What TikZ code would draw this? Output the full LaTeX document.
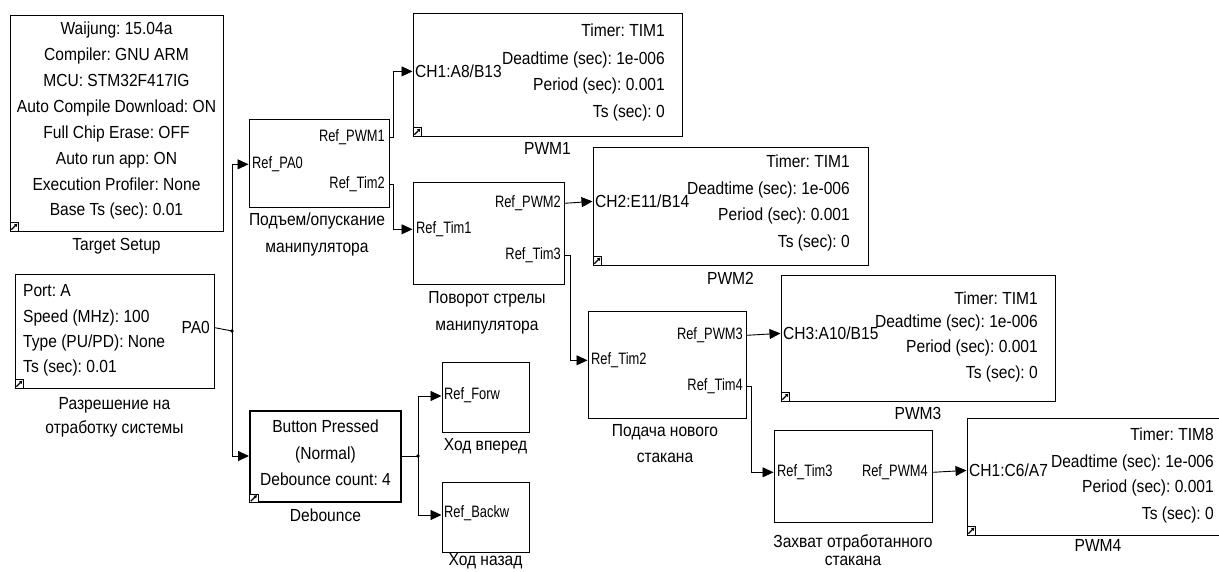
\documentclass[tikz,border=0pt]{standalone}
\usepackage{fontspec}
\setmainfont[FakeStretch=0.89]{Liberation Sans}
\newfontfamily\portfont[FakeStretch=0.78]{Liberation Sans}
\usetikzlibrary{arrows.meta}
\newcommand{\mainsz}{\frenchspacing\fontsize{17.5}{20}\selectfont}
\newcommand{\portsz}{\frenchspacing\portfont\fontsize{16.5}{18}\selectfont}

\begin{document}
\begin{tikzpicture}[x=1pt,y=-1pt,
  blk/.style={draw,line width=1pt,inner sep=0pt},
  txt/.style={inner sep=0pt,font=\mainsz},
  prt/.style={inner sep=0pt,font=\portsz},
  wire/.style={line width=0.9pt},
  sig/.style={wire,-{Triangle[length=11pt,width=10pt]}},
  lnk/.style={draw,fill=white,line width=0.8pt,minimum size=8.5pt,inner sep=0pt}]
\useasboundingbox (0,0) rectangle (1219,571);

% blocks
\node[blk,minimum width=213pt,minimum height=216pt] (tgt) at (116.5,123) {};
\node[blk,minimum width=199pt,minimum height=114pt] (en) at (114.5,331) {};
\node[blk,minimum width=140pt,minimum height=88pt] (lift) at (319,163) {};
\node[blk,minimum width=151pt,minimum height=102pt] (rot) at (488.5,233) {};
\node[blk,minimum width=158pt,minimum height=107pt] (feed) at (667,364.5) {};
\node[blk,minimum width=158pt,minimum height=92pt] (grab) at (853,476) {};
\node[blk,line width=2pt,minimum width=151pt,minimum height=91pt] (deb) at (325.5,456.5) {};
\node[blk,minimum width=87pt,minimum height=70pt] (fwd) at (485.5,397) {};
\node[blk,minimum width=87pt,minimum height=70pt] (bwd) at (485.5,517) {};
\node[blk,minimum width=269pt,minimum height=123pt] (pwma) at (547.5,74.5) {};
\node[blk,minimum width=275pt,minimum height=118pt] (pwmb) at (730.5,206) {};
\node[blk,minimum width=274pt,minimum height=126pt] (pwmc) at (918,338) {};
\node[blk,minimum width=264pt,minimum height=117pt] (pwmd) at (1099,476.5) {};

\foreach \b in {tgt,en,deb,pwma,pwmb,pwmc,pwmd} {
  \node[lnk,anchor=south west] (\b-i) at (\b.south west) {};
  \draw[-{Triangle[length=3pt,width=3.5pt]},line width=1.1pt]
    ([shift={(1.8,-1.8)}]\b-i.south west) -- ([shift={(-1.4,1.4)}]\b-i.north east);
}

% target setup
\foreach \t [count=\i] in {Waijung: 15.04a,Compiler: GNU ARM,MCU: STM32F417IG,
    Auto Compile Download: ON,Full Chip Erase: OFF,Auto run app: ON,
    Execution Profiler: None,Base Ts (sec): 0.01}
  \node[txt,anchor=mid] (tgt-\i) at (116.5,{32+25.9*(\i-1)}) {\t};
\node[txt,anchor=mid] (tgt-n) at (116.5,248) {Target Setup};

% enable input
\node[txt,anchor=mid west] (en-1) at (23,294) {Port: A};
\node[txt,anchor=mid west] (en-2) at (23,320) {Speed (MHz): 100};
\node[txt,anchor=mid west] (en-3) at (23,345) {Type (PU/PD): None};
\node[txt,anchor=mid west] (en-4) at (23,370) {Ts (sec): 0.01};
\node[txt,anchor=mid east] (en-o) at (210,331) {PA0};
\node[txt,anchor=mid] (en-n1) at (114.5,407) {Разрешение на};
\node[txt,anchor=mid] (en-n2) at (114.5,431) {отработку системы};

% debounce
\node[txt,anchor=mid] (deb-1) at (325.5,430) {Button Pressed};
\node[txt,anchor=mid] (deb-2) at (325.5,457) {(Normal)};
\node[txt,anchor=mid] (deb-3) at (325.5,483) {Debounce count: 4};
\node[txt,anchor=mid] (deb-n) at (325.5,519) {Debounce};

% subsystems
\node[prt,anchor=mid west] (lift-i) at (252,166) {Ref\_PA0};
\node[prt,anchor=mid east] (lift-o1) at (385,139) {Ref\_PWM1};
\node[prt,anchor=mid east] (lift-o2) at (385,186) {Ref\_Tim2};
\node[txt,anchor=mid] (lift-n1) at (317,223) {Подъем/опускание};
\node[txt,anchor=mid] (lift-n2) at (317,250) {манипулятора};

\node[prt,anchor=mid west] (rot-i) at (416,231) {Ref\_Tim1};
\node[prt,anchor=mid east] (rot-o1) at (561,205) {Ref\_PWM2};
\node[prt,anchor=mid east] (rot-o2) at (561,257) {Ref\_Tim3};
\node[txt,anchor=mid] (rot-n1) at (487,301) {Поворот стрелы};
\node[txt,anchor=mid] (rot-n2) at (487,328) {манипулятора};

\node[prt,anchor=mid west] (feed-i) at (591,362) {Ref\_Tim2};
\node[prt,anchor=mid east] (feed-o1) at (743,337) {Ref\_PWM3};
\node[prt,anchor=mid east] (feed-o2) at (743,388) {Ref\_Tim4};
\node[txt,anchor=mid] (feed-n1) at (665,434) {Подача нового};
\node[txt,anchor=mid] (feed-n2) at (665,460) {стакана};

\node[prt,anchor=mid west] (grab-i) at (777,474) {Ref\_Tim3};
\node[prt,anchor=mid east] (grab-o) at (928,474) {Ref\_PWM4};
\node[txt,anchor=mid] (grab-n1) at (853,545) {Захват отработанного};
\node[txt,anchor=mid] (grab-n2) at (853,563) {стакана};

\node[prt,anchor=mid west] (fwd-i) at (444,397) {Ref\_Forw};
\node[txt,anchor=mid] (fwd-n) at (485.5,448) {Ход вперед};
\node[prt,anchor=mid west] (bwd-i) at (444,515) {Ref\_Backw};
\node[txt,anchor=mid] (bwd-n) at (485.5,563) {Ход назад};

% pwm blocks
\node[txt,anchor=mid west] (pwma-i) at (415,75) {CH1:A8/B13};
\node[txt,anchor=mid east] (pwma-1) at (665,34) {Timer: TIM1};
\node[txt,anchor=mid east] (pwma-2) at (665,62) {Deadtime (sec): 1e-006};
\node[txt,anchor=mid east] (pwma-3) at (665,88) {Period (sec): 0.001};
\node[txt,anchor=mid east] (pwma-4) at (665,115) {Ts (sec): 0};
\node[txt,anchor=mid] (pwma-n) at (547.5,152) {PWM1};

\node[txt,anchor=mid west] (pwmb-i) at (595,205) {CH2:E11/B14};
\node[txt,anchor=mid east] (pwmb-1) at (850,165) {Timer: TIM1};
\node[txt,anchor=mid east] (pwmb-2) at (850,192) {Deadtime (sec): 1e-006};
\node[txt,anchor=mid east] (pwmb-3) at (850,218) {Period (sec): 0.001};
\node[txt,anchor=mid east] (pwmb-4) at (850,245) {Ts (sec): 0};
\node[txt,anchor=mid] (pwmb-n) at (730.5,282) {PWM2};

\node[txt,anchor=mid west] (pwmc-i) at (783,337) {CH3:A10/B15};
\node[txt,anchor=mid east] (pwmc-1) at (1038,302) {Timer: TIM1};
\node[txt,anchor=mid east] (pwmc-2) at (1038,325) {Deadtime (sec): 1e-006};
\node[txt,anchor=mid east] (pwmc-3) at (1038,350) {Period (sec): 0.001};
\node[txt,anchor=mid east] (pwmc-4) at (1038,376) {Ts (sec): 0};
\node[txt,anchor=mid] (pwmc-n) at (918,417) {PWM3};

\node[txt,anchor=mid west] (pwmd-i) at (969,474) {CH1:C6/A7};
\node[txt,anchor=mid east] (pwmd-1) at (1214,438) {Timer: TIM8};
\node[txt,anchor=mid east] (pwmd-2) at (1214,465) {Deadtime (sec): 1e-006};
\node[txt,anchor=mid east] (pwmd-3) at (1214,490) {Period (sec): 0.001};
\node[txt,anchor=mid east] (pwmd-4) at (1214,517) {Ts (sec): 0};
\node[txt,anchor=mid] (pwmd-n) at (1098,549) {PWM4};

% ports and branch points
\coordinate (en-out) at (en.east |- en-o);
\coordinate (j1) at (232,331);
\coordinate (lift-in) at (lift.west |- lift-i);
\coordinate (lift-out1) at (lift.east |- lift-o1);
\coordinate (lift-out2) at (lift.east |- lift-o2);
\coordinate (rot-in) at (rot.west |- rot-i);
\coordinate (rot-out1) at (rot.east |- rot-o1);
\coordinate (rot-out2) at (rot.east |- rot-o2);
\coordinate (feed-in) at (feed.west |- feed-i);
\coordinate (feed-out1) at (feed.east |- feed-o1);
\coordinate (feed-out2) at (feed.east |- feed-o2);
\coordinate (grab-in) at (grab.west |- grab-i);
\coordinate (grab-out) at (grab.east |- grab-o);
\coordinate (deb-in) at (deb.west |- 0,456);
\coordinate (deb-out) at (deb.east |- 0,456);
\coordinate (j2) at (418,456);
\coordinate (fwd-in) at (fwd.west |- 0,396);
\coordinate (bwd-in) at (bwd.west |- 0,515);
\coordinate (pwma-in) at (pwma.west |- pwma-i);
\coordinate (pwmb-in) at (pwmb.west |- pwmb-i);
\coordinate (pwmc-in) at (pwmc.west |- pwmc-i);
\coordinate (pwmd-in) at (pwmd.west |- pwmd-i);

% connections
\draw[wire] (en-out) -- (j1);
\fill (j1) circle (1.8);
\draw[sig] (j1) |- (lift-in);
\draw[sig] (j1) |- (deb-in);
\draw[sig] (lift-out1) -- ++(4,0) |- (pwma-in);
\draw[sig] (lift-out2) -- ++(4,0) |- (rot-in);
\draw[sig] (rot-out1) -- (pwmb-in);
\draw[sig] (rot-out2) -- ++(6,0) |- (feed-in);
\draw[sig] (feed-out1) -- (pwmc-in);
\draw[sig] (feed-out2) -- ++(5,0) |- (grab-in);
\draw[sig] (grab-out) -- (pwmd-in);
\draw[wire] (deb-out) -- (j2);
\fill (j2) circle (1.8);
\draw[sig] (j2) |- (fwd-in);
\draw[sig] (j2) |- (bwd-in);
\end{tikzpicture}
\end{document}
